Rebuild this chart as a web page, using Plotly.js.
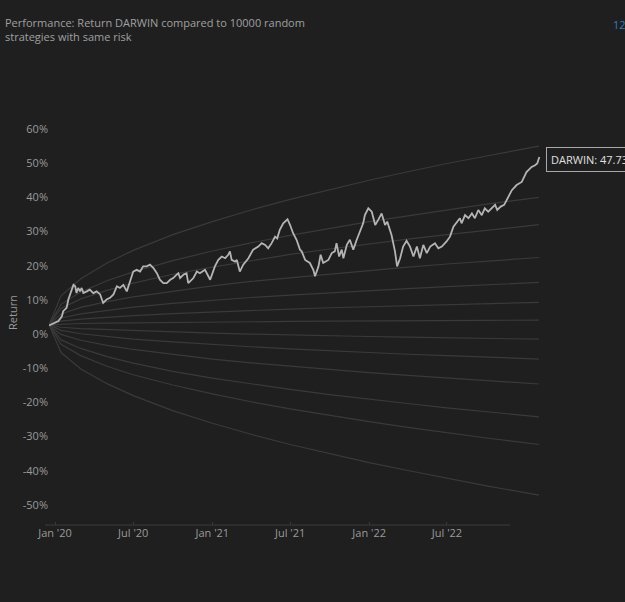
<!DOCTYPE html>
<html>
<head>
<meta charset="utf-8">
<script src="https://cdn.plot.ly/plotly-3.0.1.min.js"></script>
<style>html,body{margin:0;padding:0;background:#1f1f1f;}#chart{width:625px;height:602px;}</style>
</head>
<body>
<div id="chart"></div>
<script>
// ---- DATA ----
var darwinDays = [-14,0,8,16,19,27,31,39,43,47,50,54,58,62,66,74,81,89,97,105,112,120,128,136,144,151,159,167,175,182,190,198,205,213,221,229,237,244,252,260,268,275,283,287,291,299,306,310,322,330,337,
349,361,372,380,388,396,403,407,411,419,423,430,438,450,461,473,481,489,496,504,512,517,523,531,541,547,554,562,570,574,582,593,601,605,613,618,624,636,644,651,655,661,667,671,679,686,694,702,710,717,721,729,737,745,752,760,768,773,783,
791,796,803,810,818,826,834,842,849,857,865,873,884,892,900,911,919,927,935,942,946,954,962,970,977,985,993,1000,1008,1016,1024,1029,1037,1045,1055,1063,1074,1086,1097,1109,1117,1122,1127];
var darwinReturn = [2.5,3.3,3.8,5.2,6.7,7.7,10.1,13,14.4,14,12,13.5,12.5,13.5,12,12.5,13,12,12.5,11.6,9.1,10.1,10.6,11.6,14,13.5,14.4,12.5,15.4,18.3,18.8,18.3,19.8,19.8,20.3,19.3,17.8,15.9,14.9,14.9,15.9,16.4,17.4,17.8,16.4,17.4,17.8,14.9,16.4,18.3,17.8,
18.8,15.9,19.8,21.7,22.7,22.2,23.2,24.2,21.7,21.2,21.7,18.3,20.3,22.2,24.7,25.6,26.6,26.1,25.1,26.6,28.5,28,30.5,32.4,33.6,31.9,29.5,27.6,24.7,24.2,21.7,20.8,18.8,16.9,19.8,23.2,20.8,21.7,23.7,24.2,26.6,22.7,24.7,22.2,26.1,27.6,24.7,27.6,30.5,32.4,34.8,36.8,35.8,31.9,33.4,35.3,31.9,32.9,29,
24.2,19.8,22.2,25.6,27.3,25.6,22.7,25.6,22.2,26.1,23.7,25.6,26.6,25.1,25.6,27.1,28.5,31.4,32.9,33.9,32.4,34.8,33.9,35.3,33.9,36.3,34.8,36.8,35.8,36.8,37.8,36.3,37.3,37.8,40.2,42.1,43.6,44.5,47.4,48.9,49.4,49.9,51.8];

var fanDates = ['2019-12-18','2020-01-15','2020-03-01','2020-05-01','2020-07-01','2020-10-01','2021-01-01','2021-04-01','2021-07-01','2021-10-01','2022-01-01','2022-04-01','2022-07-01','2022-10-01','2023-01-31'];
var fan1  = [2.7,11.2,16.2,20.8,24.5,29.1,32.9,36.3,39.4,42.3,45.0,47.5,49.9,52.1,55.0];
var fan2  = [2.7,8.7,12.3,15.6,18.2,21.5,24.3,26.7,28.9,30.9,32.9,34.6,36.3,38.0,40.0];
var fan3  = [2.7,7.5,10.3,12.8,14.9,17.5,19.6,21.5,23.3,24.9,26.4,27.8,29.1,30.4,32.0];
var fan4  = [2.7,5.9,7.8,9.5,10.9,12.6,14.1,15.4,16.5,17.6,18.6,19.6,20.5,21.3,22.4];
var fan5  = [2.7,4.7,5.9,7.0,7.9,9.0,9.9,10.7,11.4,12.1,12.7,13.3,13.9,14.4,15.1];
var fan6  = [2.7,3.8,4.4,5.0,5.4,6.0,6.5,6.9,7.3,7.7,8.0,8.4,8.7,8.9,9.3];
var fan7  = [2.7,2.9,3.1,3.2,3.3,3.4,3.5,3.6,3.7,3.8,3.8,3.9,4.0,4.0,4.1];
var fan8  = [2.7,2.0,1.6,1.3,1.0,0.6,0.3,0.0,-0.3,-0.5,-0.7,-0.9,-1.1,-1.3,-1.5];
var fan9  = [2.7,1.1,0.1,-0.8,-1.5,-2.3,-3.1,-3.7,-4.3,-4.9,-5.4,-5.9,-6.3,-6.8,-7.3];
var fan10 = [2.7,-0.1,-1.8,-3.3,-4.5,-6.0,-7.3,-8.4,-9.4,-10.4,-11.3,-12.1,-12.9,-13.6,-14.6];
var fan11 = [2.7,-1.7,-4.2,-6.6,-8.5,-10.9,-12.9,-14.6,-16.2,-17.7,-19.1,-20.3,-21.6,-22.7,-24.2];
var fan12 = [2.7,-3.0,-6.3,-9.4,-11.9,-14.9,-17.5,-19.8,-21.9,-23.8,-25.6,-27.3,-28.9,-30.4,-32.3];
var fan13 = [2.7,-5.4,-10.2,-14.5,-18.0,-22.4,-26.1,-29.3,-32.3,-35.0,-37.6,-39.9,-42.2,-44.4,-47.1];

var xTickVals = ['2020-01-01','2020-07-01','2021-01-01','2021-07-01','2022-01-01','2022-07-01'];
var xTickText = ["Jan '20","Jul '20","Jan '21","Jul '21","Jan '22","Jul '22"];
var yTickVals = [-50,-40,-30,-20,-10,0,10,20,30,40,50,60];
var yTickText = ['-50%','-40%','-30%','-20%','-10%','0%','10%','20%','30%','40%','50%','60%'];

var titleText = 'Performance: Return DARWIN compared to 10000 random<br>strategies with same risk';
var hoverText = 'DARWIN: 47.73%';

// ---- BUILD ----
function dayToDate(d){ return new Date(Date.UTC(2020,0,1) + d*86400000).toISOString().slice(0,10); }
var darwinDates = darwinDays.map(dayToDate);

var fans = [fan1,fan2,fan3,fan4,fan5,fan6,fan7,fan8,fan9,fan10,fan11,fan12,fan13];
var traces = fans.map(function(f){
  return {x: fanDates, y: f, type:'scatter', mode:'lines', line:{color:'#3a3a3a', width:1.2}, hoverinfo:'skip', showlegend:false};
});
traces.push({x: darwinDates, y: darwinReturn, type:'scatter', mode:'lines', name:'DARWIN',
  line:{color:'#b4b4b4', width:1.8}, showlegend:false});

var lastX = darwinDates[darwinDates.length-1];
var lastY = darwinReturn[darwinReturn.length-1];

var layout = {
  width:625, height:602,
  paper_bgcolor:'#1f1f1f', plot_bgcolor:'#1f1f1f',
  margin:{l:49, r:65, t:100, b:77},
  font:{family:'"Open Sans", sans-serif', color:'#9a9a9a', size:11},
  title:{text:titleText, x:0.008, xref:'container', xanchor:'left', y:0.955, yref:'container', yanchor:'top',
    font:{size:11, color:'#a0a0a0'}},
  xaxis:{type:'date', range:['2019-12-18','2023-03-21'], tickvals:xTickVals, ticktext:xTickText,
    showgrid:false, zeroline:false, showline:false, ticks:'inside', ticklen:3, tickcolor:'#3a3a3a',
    tickfont:{size:11, color:'#9a9a9a'}},
  yaxis:{range:[-55.85, 68.48], tickvals:yTickVals, ticktext:yTickText, showgrid:false, zeroline:false,
    showline:false, tickfont:{size:11, color:'#9a9a9a'},
    title:{text:'Return', font:{size:11, color:'#9a9a9a'}, standoff:2}},
  shapes:[{type:'line', xref:'paper', yref:'paper', x0:-0.008, x1:0.902, y0:0, y1:0, line:{color:'#333333', width:1.5}}],
  annotations:[
    {x:lastX, y:lastY, xref:'x', yref:'y', text:hoverText, showarrow:false, xanchor:'left', yanchor:'middle',
      xshift:7, yshift:-2, bgcolor:'#1f1f1f', bordercolor:'#a8a8a8', borderwidth:1, borderpad:4,
      font:{size:11, color:'#e0e0e0'}},
    {x:1.1, y:1.177, xref:'paper', yref:'paper', text:'12M', showarrow:false, xanchor:'left', yanchor:'middle',
      font:{size:11, color:'#2f7ec4'}}
  ],
  hovermode:false
};

Plotly.newPlot('chart', traces, layout, {displayModeBar:false, staticPlot:true});
</script>
</body>
</html>
